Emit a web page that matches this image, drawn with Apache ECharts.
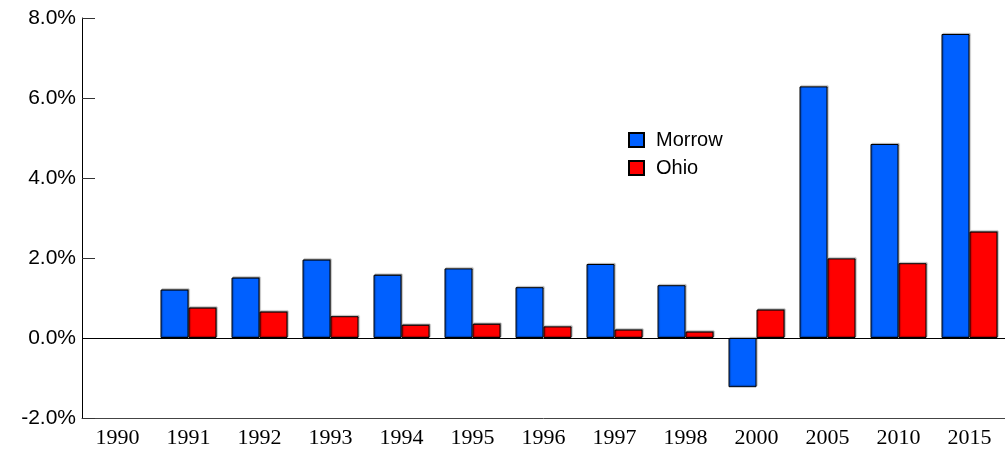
<!DOCTYPE html>
<html>
<head>
<meta charset="utf-8">
<script src="https://cdn.jsdelivr.net/npm/echarts@6/dist/echarts.min.js"></script>
<style>html,body{margin:0;padding:0;background:#fff}#c{width:1005px;height:450px}</style>
</head>
<body>
<div id="c"></div>
<script>
const categories = ['1990','1991','1992','1993','1994','1995','1996','1997','1998','2000','2005','2010','2015'];
const morrow = [null, 1.21, 1.51, 1.96, 1.58, 1.74, 1.27, 1.85, 1.32, -1.23, 6.29, 4.85, 7.6];
const ohio   = [null, 0.76, 0.66, 0.545, 0.33, 0.355, 0.29, 0.21, 0.16, 0.71, 1.99, 1.87, 2.66];
const yMin = -2, yMax = 8, yStep = 2;

const chart = echarts.init(document.getElementById('c'), null, {renderer:'canvas'});
const barStyle = (color) => ({
  color: color, borderColor: '#000', borderWidth: 1,
  shadowColor: 'rgba(0,0,0,0.35)', shadowBlur: 1, shadowOffsetX: 1, shadowOffsetY: -1
});
chart.setOption({
  animation: false,
  grid: {left: 82, right: 0, top: 18, bottom: 32, containLabel: false},
  legend: {
    orient: 'vertical', left: 623, top: 125, itemWidth: 15, itemHeight: 14, itemGap: 8,
    icon: 'rect',
    textStyle: {fontFamily: 'Liberation Sans, Arial, sans-serif', fontSize: 20, color: '#000', lineHeight: 14, padding: [0, 0, 0, 7]},
    data: ['Morrow', 'Ohio']
  },
  xAxis: {
    type: 'category', data: categories,
    axisLine: {onZero: false, lineStyle: {color: '#444', width: 1}},
    axisTick: {show: false},
    axisLabel: {fontFamily: 'Liberation Serif, Times New Roman, serif', fontSize: 22, color: '#000', margin: 9}
  },
  yAxis: {
    type: 'value', min: yMin, max: yMax, interval: yStep,
    axisLine: {show: true, lineStyle: {color: '#000', width: 1}},
    axisTick: {show: true, inside: true, length: 13, lineStyle: {color: '#333'}},
    splitLine: {show: false},
    axisLabel: {
      fontFamily: 'Liberation Sans, Arial, sans-serif', fontSize: 21, color: '#000', margin: 6,
      formatter: v => v.toFixed(1) + '%'
    }
  },
  series: [
    {
      name: 'Morrow', type: 'bar', data: morrow, barWidth: 28, barGap: '0%',
      itemStyle: barStyle('#0060FF'),
      markLine: {
        silent: true, symbol: 'none', label: {show: false},
        lineStyle: {color: '#000', width: 1, type: 'solid'},
        data: [{yAxis: 0}]
      },
      z: 2
    },
    {
      name: 'Ohio', type: 'bar', data: ohio, barWidth: 28, barGap: '0%',
      itemStyle: barStyle('#FF0000'),
      z: 2
    }
  ]
});
</script>
</body>
</html>
